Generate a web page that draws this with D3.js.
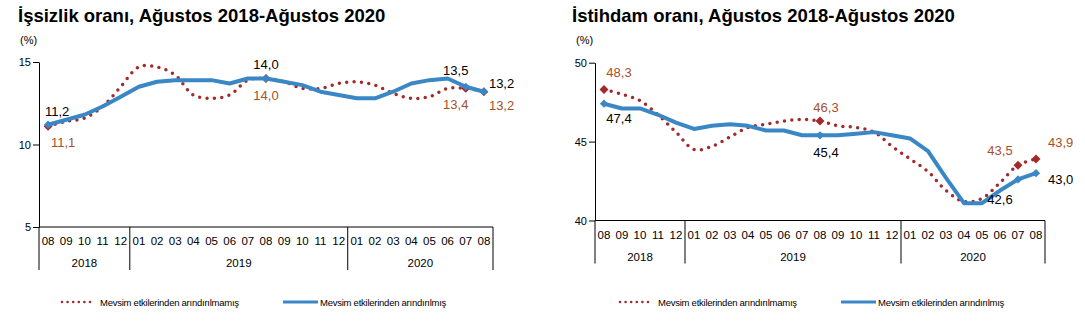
<!DOCTYPE html>
<html>
<head>
<meta charset="utf-8">
<script src="https://cdn.jsdelivr.net/npm/d3@7"></script>
<style>
  body { margin: 0; background: #fff; }
  svg { display: block; font-family: "Liberation Sans", Arial, sans-serif; }
</style>
</head>
<body>
<svg id="chart" width="1085" height="329"></svg>
<script>
// months Aug 2018 - Aug 2020
const months = ["2018-08","2018-09","2018-10","2018-11","2018-12",
  "2019-01","2019-02","2019-03","2019-04","2019-05","2019-06","2019-07","2019-08","2019-09","2019-10","2019-11","2019-12",
  "2020-01","2020-02","2020-03","2020-04","2020-05","2020-06","2020-07","2020-08"];
const years = ["2018", "2019", "2020"];

// unemployment rate (%)
const issizlikHam = [11.1, 11.4, 11.6, 12.3, 13.5, 14.7, 14.7, 14.2, 13.0, 12.8, 13.0, 13.9, 14.0,
  13.8, 13.4, 13.4, 13.7, 13.8, 13.6, 13.1, 12.8, 12.9, 13.4, 13.4, 13.2];
const issizlikMev = [11.2, 11.5, 11.8, 12.3, 12.9, 13.5, 13.8, 13.9, 13.9, 13.9, 13.7, 14.0, 14.0,
  13.8, 13.6, 13.2, 13.0, 12.8, 12.8, 13.2, 13.7, 13.9, 14.0, 13.5, 13.2];

// employment rate (%)
const istihdamHam = [48.3, 48.0, 47.6, 46.7, 45.6, 44.5, 44.7, 45.3, 45.9, 46.1, 46.3, 46.4, 46.3,
  46.0, 45.9, 45.6, 44.7, 43.9, 43.1, 41.9, 41.2, 41.4, 42.4, 43.5, 43.9];
const istihdamMev = [47.4, 47.1, 47.1, 46.7, 46.2, 45.8, 46.0, 46.1, 46.0, 45.7, 45.7, 45.4, 45.4,
  45.4, 45.5, 45.6, 45.4, 45.2, 44.4, 42.7, 41.1, 41.1, 41.9, 42.6, 43.0];

const issizlikTicks = [5, 10, 15];
const istihdamTicks = [40, 45, 50];

const legendHam = "Mevsim etkilerinden arındırılmamış";
const legendMev = "Mevsim etkilerinden arındırılmış";

const BLUE = "#3a87c6";
const RED = "#a32a2a";
const RED_TEXT = "#a4502b";

const svg = d3.select("#chart");
svg.append("rect").attr("width", 1085).attr("height", 329).attr("fill", "#fff");

const fmt = v => v.toFixed(1).replace(".", ",");

function panel(o) {
  const g = svg.append("g");

  g.append("text").text(o.title)
    .attr("x", o.titleX).attr("y", 22)
    .attr("font-size", 18.5).attr("font-weight", "bold").attr("fill", "#000");
  g.append("text").text("(%)")
    .attr("x", o.x0 - 19).attr("y", 44)
    .attr("font-size", 11).attr("fill", "#000");

  const x = d3.scaleBand().domain(months).range([o.x0, o.x1]);
  const y = d3.scaleLinear().domain([o.ticks[0], o.ticks[2]]).range([o.yb, o.yt]);
  const cx = i => x(months[i]) + x.bandwidth() / 2;

  // y axis
  const ya = g.append("g").attr("transform", `translate(${o.x0},0)`)
    .call(d3.axisLeft(y).tickValues(o.ticks).tickSize(6).tickSizeOuter(0));
  ya.select(".domain").attr("stroke", "#000");
  ya.selectAll(".tick line").attr("stroke", "#000");
  ya.selectAll(".tick text").attr("font-size", 11).attr("font-family", "Liberation Sans, Arial").attr("fill", "#000").attr("x", -8);

  // category axis with month labels
  const xa = g.append("g").attr("transform", `translate(0,${o.yb})`)
    .call(d3.axisBottom(x).tickSize(0).tickFormat(d => d.slice(5)));
  xa.select(".domain").remove();
  xa.selectAll(".tick text").attr("font-size", 11.5).attr("font-family", "Liberation Sans, Arial")
    .attr("fill", "#000").attr("dy", 0).attr("y", o.monthY - o.yb);
  g.append("line").attr("x1", o.x0).attr("x2", o.x1).attr("y1", o.yb).attr("y2", o.yb).attr("stroke", "#000");

  // year groups
  const bounds = [o.x0];
  years.forEach(yr => {
    const ms = months.filter(m => m.startsWith(yr));
    const a = x(ms[0]), b = x(ms[ms.length - 1]) + x.bandwidth();
    const right = yr === years[years.length - 1] ? o.x1 : b;
    bounds.push(right);
    g.append("text").text(yr).attr("x", (a + b) / 2).attr("y", o.yearY)
      .attr("text-anchor", "middle").attr("font-size", 11.5).attr("fill", "#000");
  });
  bounds.forEach(bx => {
    g.append("line").attr("x1", bx).attr("x2", bx).attr("y1", o.yb).attr("y2", o.yb + 43)
      .attr("stroke", "#000");
  });

  const lineHam = d3.line().x((d, i) => cx(i)).y(d => y(d)).curve(d3.curveCatmullRom.alpha(0.5));
  const lineMev = d3.line().x((d, i) => cx(i)).y(d => y(d));

  const redDiamond = d3.symbol().type(d3.symbolSquare).size(40);
  const blueDiamond = d3.symbol().type(d3.symbolSquare).size(34);

  g.append("path").datum(o.ham).attr("d", lineHam)
    .attr("fill", "none").attr("stroke", RED).attr("stroke-width", 3.5)
    .attr("stroke-linecap", "round").attr("stroke-dasharray", "0 7.4");
  o.marks.forEach(i => {
    g.append("path").attr("d", redDiamond)
      .attr("transform", `translate(${cx(i)},${y(o.ham[i])}) rotate(45)`).attr("fill", RED);
  });

  g.append("path").datum(o.mev).attr("d", lineMev)
    .attr("fill", "none").attr("stroke", BLUE).attr("stroke-width", 4)
    .attr("stroke-linejoin", "round").attr("stroke-linecap", "round");
  o.marks.forEach(i => {
    g.append("path").attr("d", blueDiamond)
      .attr("transform", `translate(${cx(i)},${y(o.mev[i])}) rotate(45)`).attr("fill", BLUE);
  });

  // value labels
  o.labels.forEach(l => {
    const v = l.s[l.i];
    g.append("text").text(fmt(v))
      .attr("x", cx(l.i) + l.dx).attr("y", y(v) + l.dy)
      .attr("text-anchor", l.anchor || "middle")
      .attr("font-size", 13).attr("fill", l.s === o.ham ? RED_TEXT : "#000");
  });

  // legend
  const ly = 302;
  g.append("line").attr("x1", o.legX).attr("x2", o.legX + 30).attr("y1", ly).attr("y2", ly)
    .attr("stroke", RED).attr("stroke-width", 2.6).attr("stroke-linecap", "round").attr("stroke-dasharray", "0 5.6");
  g.append("text").text(legendHam).attr("x", o.legX + 38).attr("y", ly + 3.5)
    .attr("font-size", 9.5).attr("letter-spacing", -0.25).attr("fill", "#000");
  g.append("line").attr("x1", o.legX + 221).attr("x2", o.legX + 256).attr("y1", ly).attr("y2", ly)
    .attr("stroke", BLUE).attr("stroke-width", 3);
  g.append("text").text(legendMev).attr("x", o.legX + 258).attr("y", ly + 3.5)
    .attr("font-size", 9.5).attr("letter-spacing", -0.25).attr("fill", "#000");
}

panel({
  title: "İşsizlik oranı, Ağustos 2018-Ağustos 2020", titleX: 18,
  x0: 39, x1: 493, yt: 62, yb: 227, ticks: issizlikTicks,
  monthY: 245, yearY: 267, legX: 62,
  ham: issizlikHam, mev: issizlikMev, marks: [0, 12, 23, 24],
  labels: [
    { s: issizlikMev, i: 0, dx: 9, dy: -9 },
    { s: issizlikHam, i: 0, dx: 15, dy: 21 },
    { s: issizlikMev, i: 12, dx: 0, dy: -10 },
    { s: issizlikHam, i: 12, dx: 0, dy: 21 },
    { s: issizlikMev, i: 23, dx: -10, dy: -12 },
    { s: issizlikHam, i: 23, dx: -10, dy: 21 },
    { s: issizlikMev, i: 24, dx: 5, dy: -4, anchor: "start" },
    { s: issizlikHam, i: 24, dx: 5, dy: 18, anchor: "start" }
  ]
});

panel({
  title: "İstihdam oranı, Ağustos 2018-Ağustos 2020", titleX: 572,
  x0: 595, x1: 1045, yt: 62.7, yb: 220.5, ticks: istihdamTicks,
  monthY: 239, yearY: 261, legX: 620,
  ham: istihdamHam, mev: istihdamMev, marks: [0, 12, 23, 24],
  labels: [
    { s: istihdamHam, i: 0, dx: 15, dy: -13 },
    { s: istihdamMev, i: 0, dx: 15, dy: 19 },
    { s: istihdamHam, i: 12, dx: 6, dy: -9 },
    { s: istihdamMev, i: 12, dx: 6, dy: 22 },
    { s: istihdamHam, i: 23, dx: -18, dy: -10 },
    { s: istihdamMev, i: 23, dx: -18, dy: 25 },
    { s: istihdamHam, i: 24, dx: 12, dy: -12, anchor: "start" },
    { s: istihdamMev, i: 24, dx: 12, dy: 11, anchor: "start" }
  ]
});
</script>
</body>
</html>
